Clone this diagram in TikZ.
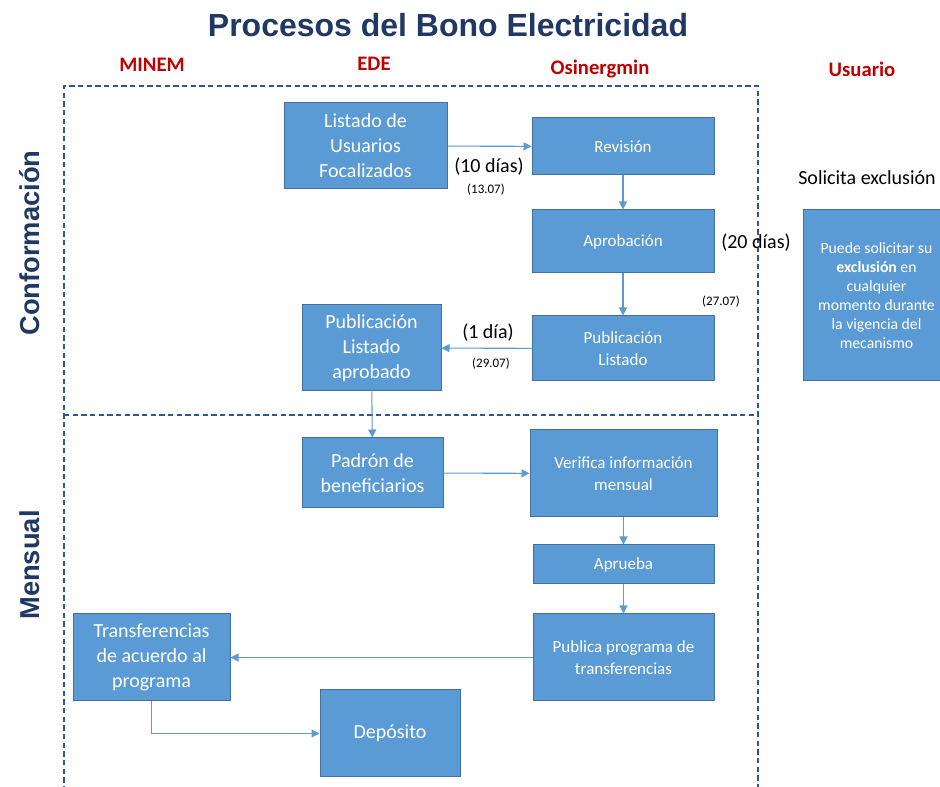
\documentclass[tikz,border=0pt]{standalone}
\usepackage{fontspec}
\setmainfont{Carlito}
\newfontfamily\arialf{Liberation Sans}
\usetikzlibrary{arrows.meta}
\definecolor{boxfill}{HTML}{5B9BD5}
\definecolor{boxline}{HTML}{41719C}
\definecolor{navy}{HTML}{203864}
\definecolor{hdrred}{HTML}{C00000}
\definecolor{framec}{HTML}{2F5597}
\definecolor{arrowc}{HTML}{5B9BD5}
\tikzset{
 bx/.style={draw=boxline, fill=boxfill, line width=0.75pt, text=white, align=center, inner sep=0pt},
 big/.style={font=\fontsize{15}{18.75}\selectfont},
 med/.style={font=\fontsize{12.75}{16.5}\selectfont},
 sml/.style={font=\fontsize{11.8}{14.25}\selectfont},
 flow/.style={draw=arrowc, line width=0.8pt, -{Triangle[width=6pt,length=6pt]}},
 lbl/.style={font=\fontsize{15}{18}\selectfont, inner sep=0pt},
 datelbl/.style={font=\fontsize{9.75}{12}\selectfont, inner sep=0pt},
 hdr/.style={font=\fontsize{15.5}{18}\selectfont\bfseries, text=hdrred, inner sep=0pt},
 frm/.style={draw=framec, line width=0.9pt, dash pattern=on 4pt off 2.5pt},
 side/.style={rotate=90, font=\arialf\bfseries\fontsize{20.5}{23}\selectfont, text=navy, inner sep=0pt},
}
\newcommand\bxnode[7]{\node[bx,#7,minimum width={(#4-#2)*0.75pt},minimum height={(#5-#3)*0.75pt}] (#1) at ({(#2+#4)/2},{(#3+#5)/2}) {#6};}
\begin{document}
\begin{tikzpicture}[x=0.75pt,y=-0.75pt]
\clip (0,0) rectangle (940,787);
\fill[white] (0,0) rectangle (940,787);
% title and headers
\node[font=\arialf\bfseries\fontsize{24}{27}\selectfont, text=navy, inner sep=0pt] (title) at (448,25) {Procesos del Bono Electricidad};
\node[hdr] (hminem) at (152,65) {MINEM};
\node[hdr] (hede) at (374,64) {EDE};
\node[hdr] (hosi) at (600,69) {Osinergmin};
\node[hdr] (husu) at (862,69) {Usuario};
% side labels
\node[side] (conf) at (30,243) {Conformación};
\node[side] (mens) at (30,565) {Mensual};
% frame
\draw[frm] (64,800) -- (64,86) -- (758,86) -- (758,800);
\draw[frm] (64,415) -- (758,415);
% boxes - Conformacion
\bxnode{listado}{284}{103}{447}{189}{Listado de\\Usuarios\\Focalizados}{big}
\bxnode{revision}{532}{118}{714}{175}{Revisión}{med}
\bxnode{aprob}{532}{210}{714}{273}{Aprobación}{med}
\bxnode{publist}{532}{316}{714}{381}{Publicación\\Listado}{med}
\bxnode{pubaprob}{302}{305}{441}{391}{Publicación\\Listado\\aprobado}{big}
\bxnode{puede}{803}{210}{950}{381}{Puede solicitar su\\\textbf{exclusión} en\\cualquier\\momento durante\\la vigencia del\\mecanismo}{sml}
% boxes - Mensual
\bxnode{padron}{302}{438}{443}{508}{Padrón de\\beneficiarios}{big}
\bxnode{verif}{530}{430}{717}{517}{Verifica información\\mensual}{med}
\bxnode{aprueba}{533}{545}{714}{584}{Aprueba}{med}
\bxnode{publica}{533}{614}{714}{701}{Publica programa de\\transferencias}{med}
\bxnode{transf}{73}{614}{230}{701}{Transferencias\\de acuerdo al\\programa}{big}
\bxnode{deposito}{320}{690}{460}{777}{Depósito}{big}
% labels
\node[lbl] (l10) at (489,167) {(10 días)};
\node[datelbl] (d13) at (486,190) {(13.07)};
\node[lbl] (l20) at (756,243) {(20 días)};
\node[datelbl] (d27) at (721,302) {(27.07)};
\node[lbl] (l1) at (488,333) {(1 día)};
\node[datelbl] (d29) at (491,364) {(29.07)};
\node[lbl] (solic) at (867,178) {Solicita exclusión};
% connectors
\draw[flow] (listado) -- (revision);
\draw[flow] (revision) -- (aprob);
\draw[flow] (aprob) -- (publist);
\draw[flow] (publist) -- (pubaprob);
\draw[flow] (pubaprob) -- (padron);
\draw[flow] (padron) -- (verif);
\draw[flow] (verif) -- (aprueba);
\draw[flow] (aprueba) -- (publica);
\draw[flow] (publica) -- (transf);
\draw[flow] (transf.south) |- (deposito.west);
\end{tikzpicture}
\end{document}
